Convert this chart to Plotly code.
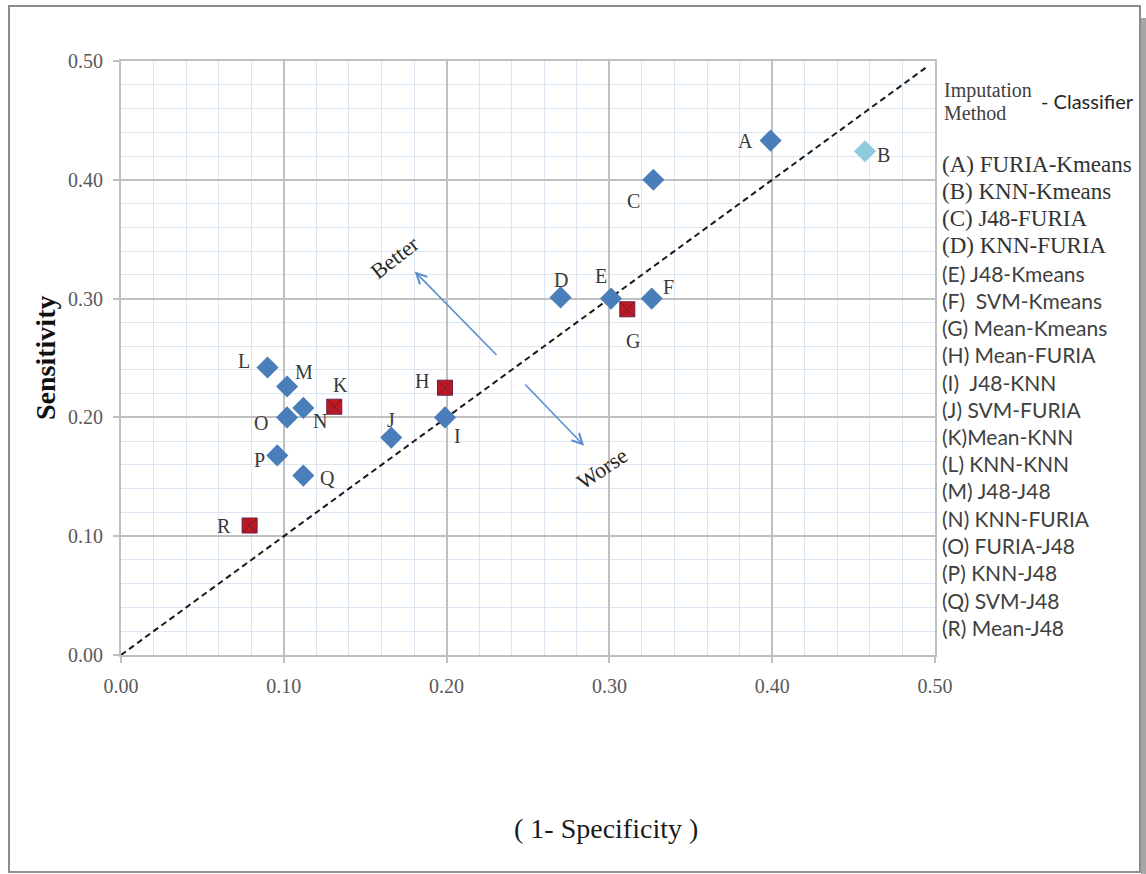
import plotly.graph_objects as go

# ---------------- data ----------------
labels = list("ABCDEFGHIJKLMNOPQR")
one_minus_spec = [0.399, 0.457, 0.327, 0.270, 0.301, 0.326, 0.311, 0.199, 0.199,
                  0.166, 0.131, 0.090, 0.102, 0.112, 0.102, 0.096, 0.112, 0.079]
sensitivity = [0.433, 0.424, 0.400, 0.301, 0.300, 0.300, 0.291, 0.225, 0.200,
               0.183, 0.209, 0.242, 0.226, 0.208, 0.200, 0.168, 0.151, 0.109]
groups = ["blue", "light", "blue", "blue", "blue", "blue", "red", "red", "blue",
          "blue", "red", "blue", "blue", "blue", "blue", "blue", "blue", "red"]
legend_entries = ["(A) FURIA-Kmeans", "(B) KNN-Kmeans", "(C) J48-FURIA", "(D) KNN-FURIA",
                  "(E) J48-Kmeans", "(F)\u00a0 SVM-Kmeans", "(G) Mean-Kmeans", "(H) Mean-FURIA",
                  "(I)\u00a0 J48-KNN", "(J) SVM-FURIA", "(K)Mean-KNN", "(L) KNN-KNN",
                  "(M) J48-J48", "(N) KNN-FURIA", "(O) FURIA-J48", "(P) KNN-J48",
                  "(Q) SVM-J48", "(R) Mean-J48"]
diag_x = [0.0, 0.495]
diag_y = [0.0, 0.495]
x_ticks = [0.0, 0.1, 0.2, 0.3, 0.4, 0.5]
y_ticks = [0.0, 0.1, 0.2, 0.3, 0.4, 0.5]

# ---------------- styles ----------------
SERIF = "Liberation Serif"
SANS = "Lato"
BLUE = "#4a7ebb"
LIGHT = "#8fcbdc"
RED = "#c0181f"
MAJOR = "#c0c0c0"
MINOR = "#dce6f2"

# label offsets (pixels, dx right, dy down)
label_offsets = {
    "A": (-25, 0), "B": (18, 4), "C": (-20, 21), "D": (0, -17), "E": (-10, -23),
    "F": (17, -12), "G": (6, 32), "H": (-23, -7), "I": (13, 19), "J": (0, -18),
    "K": (6, -22), "L": (-24, -7), "M": (17, -15), "N": (17, 13), "O": (-26, 6),
    "P": (-18, 5), "Q": (24, 2), "R": (-26, 0),
}

W, H = 1146, 874
ML, MR, MT, MB = 121, 211, 61, 219
PW, PH = W - ML - MR, H - MT - MB


def px(x):
    return (x - ML) / PW


def py(y):
    return (H - MB - y) / PH


fig = go.Figure()

# diagonal reference line
fig.add_trace(go.Scatter(x=diag_x, y=diag_y, mode="lines",
                         line=dict(color="#1a1a1a", width=2, dash="6px,4px"),
                         hoverinfo="skip"))

style_map = {
    "blue": dict(symbol="diamond", color=BLUE, size=17, line=dict(width=0)),
    "light": dict(symbol="diamond", color=LIGHT, size=17, line=dict(width=0)),
    "red": dict(symbol="square-x", color=RED, size=15, line=dict(width=1, color="#6a1f4a")),
}
for g in ["blue", "light", "red"]:
    xs = [x for x, gg in zip(one_minus_spec, groups) if gg == g]
    ys = [y for y, gg in zip(sensitivity, groups) if gg == g]
    tx = [t for t, gg in zip(labels, groups) if gg == g]
    fig.add_trace(go.Scatter(x=xs, y=ys, mode="markers", marker=style_map[g], text=tx,
                             hovertemplate="%{text}: (%{x:.3f}, %{y:.3f})<extra></extra>"))

annotations = []
# point labels
for lab, x, y in zip(labels, one_minus_spec, sensitivity):
    dx, dy = label_offsets[lab]
    annotations.append(dict(x=x, y=y, xref="x", yref="y", text=lab, showarrow=False,
                            xshift=dx, yshift=-dy, xanchor="center", yanchor="middle",
                            font=dict(family=SERIF, size=20, color="#3a3a3a")))

# Better / Worse arrows
BETTER_TAIL, BETTER_HEAD = (0.2316, 0.2513), (0.1804, 0.3229)
WORSE_TAIL, WORSE_HEAD = (0.2474, 0.2289), (0.2845, 0.1761)
for tail, head in [(BETTER_TAIL, BETTER_HEAD), (WORSE_TAIL, WORSE_HEAD)]:
    annotations.append(dict(x=head[0], y=head[1], ax=tail[0], ay=tail[1],
                            xref="x", yref="y", axref="x", ayref="y", text="",
                            showarrow=True, arrowhead=5, arrowsize=1.3, arrowwidth=1.6,
                            arrowcolor="#5b8fcf"))
annotations.append(dict(x=0.1682, y=0.3342, xref="x", yref="y", text="Better", showarrow=False,
                        xanchor="center", yanchor="middle",
                        textangle=-38, font=dict(family=SERIF, size=22, color="#262626")))
annotations.append(dict(x=0.2955, y=0.1573, xref="x", yref="y", text="Worse", showarrow=False,
                        xanchor="center", yanchor="middle",
                        textangle=-34, font=dict(family=SERIF, size=22, color="#262626")))

# axis titles
annotations.append(dict(x=px(45), y=py(358), xref="paper", yref="paper", text="<b>Sensitivity</b>",
                        showarrow=False, textangle=-90, xanchor="center", yanchor="middle",
                        font=dict(family=SERIF, size=28, color="#111111")))
annotations.append(dict(x=px(606), y=py(828), xref="paper", yref="paper", text="( 1- Specificity )",
                        showarrow=False, xanchor="center", yanchor="middle",
                        font=dict(family=SERIF, size=28, color="#1a1a1a")))

# legend block
annotations.append(dict(x=px(942), y=py(90), xref="paper", yref="paper", text="Imputation",
                        xanchor="left", yanchor="middle", showarrow=False,
                        font=dict(family=SERIF, size=20, color="#404040")))
annotations.append(dict(x=px(942), y=py(113), xref="paper", yref="paper", text="Method",
                        xanchor="left", yanchor="middle", showarrow=False,
                        font=dict(family=SERIF, size=20, color="#404040")))
annotations.append(dict(x=px(1039), y=py(101), xref="paper", yref="paper", text="- Classifier",
                        xanchor="left", yanchor="middle", showarrow=False,
                        font=dict(family=SANS, size=20, color="#262626")))
for i, entry in enumerate(legend_entries):
    serif = i < 4
    annotations.append(dict(x=px(940), y=py(164 + i * 27.25), xref="paper", yref="paper",
                            text=entry, xanchor="left", yanchor="middle", showarrow=False,
                            font=dict(family=SERIF if serif else SANS, size=23 if serif else 21,
                                      color="#333333" if serif else "#404040")))

shapes = [
    dict(type="rect", xref="paper", yref="paper", x0=px(1141), x1=px(1146), y0=py(874), y1=py(18),
         fillcolor="#a6a6a6", line=dict(width=0), layer="below"),
    dict(type="rect", xref="paper", yref="paper", x0=px(9), x1=px(1140), y0=py(872), y1=py(6),
         line=dict(color="#8c8c8c", width=2), layer="below"),
]

axis_common = dict(
    range=[0, 0.5], tickmode="array", tickformat=".2f", showgrid=True,
    gridcolor=MAJOR, gridwidth=2, zeroline=False,
    showline=True, mirror=True, linecolor=MAJOR, linewidth=2,
    ticks="outside", ticklen=6, tickcolor=MAJOR, tickwidth=2,
    tickfont=dict(family=SERIF, size=20, color="#595959"),
    ticklabelstandoff=6,
    minor=dict(dtick=0.02, tick0=0, showgrid=True, gridcolor=MINOR, gridwidth=1, ticks=""),
    fixedrange=True,
)
fig.update_layout(
    width=W, height=H, autosize=False,
    margin=dict(l=ML, r=MR, t=MT, b=MB, pad=0),
    paper_bgcolor="white", plot_bgcolor="white",
    showlegend=False,
    xaxis=dict(axis_common, tickvals=x_ticks),
    yaxis=dict(axis_common, tickvals=y_ticks),
    annotations=annotations, shapes=shapes,
)

fig.write_html("out.html")
